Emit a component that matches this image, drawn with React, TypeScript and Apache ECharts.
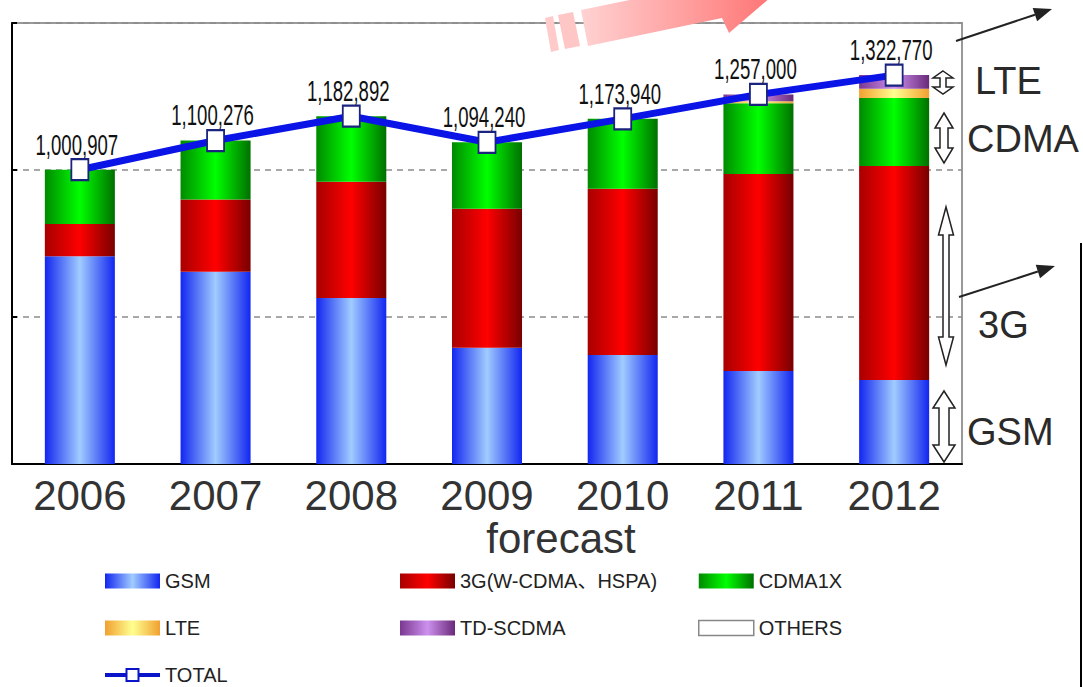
import React, { useEffect, useRef } from "react";
import * as echarts from "echarts";

const categories = ["2006", "2007", "2008", "2009", "2010", "2011", "2012"];
const gsm = [707000, 654000, 565000, 395000, 371000, 316000, 286000];
const g3 = [109000, 246000, 395000, 473000, 565000, 670000, 728000];
const cdma = [185000, 200000, 223000, 226000, 238000, 241000, 231000];
const lte = [0, 0, 0, 0, 0, 7000, 31000];
const tdscdma = [0, 0, 0, 0, 0, 23000, 47000];
const others = [0, 0, 0, 0, 0, 0, 0];
const totals = [1000907, 1100276, 1182892, 1094240, 1173940, 1257000, 1322770];

const seriesNames = ["GSM", "3G(W-CDMA、HSPA)", "CDMA1X", "LTE", "TD-SCDMA", "OTHERS", "TOTAL"];
const annotationLabels = ["LTE", "CDMA", "3G", "GSM"];
const axisNote = "forecast";

const FONT = "Liberation Sans, Arial, Noto Sans CJK JP, sans-serif";

const grad = (l: string, m: string, r: string) =>
  new echarts.graphic.LinearGradient(0, 0, 1, 0, [
    { offset: 0, color: l },
    { offset: 0.5, color: m },
    { offset: 1, color: r },
  ]);

function dblArrow(cx: number, top: number, bottom: number, headW: number, shaftW: number, headLen: number) {
  return {
    type: "polygon",
    shape: {
      points: [
        [cx, top],
        [cx + headW / 2, top + headLen],
        [cx + shaftW / 2, top + headLen],
        [cx + shaftW / 2, bottom - headLen],
        [cx + headW / 2, bottom - headLen],
        [cx, bottom],
        [cx - headW / 2, bottom - headLen],
        [cx - shaftW / 2, bottom - headLen],
        [cx - shaftW / 2, top + headLen],
        [cx - headW / 2, top + headLen],
      ],
    },
    style: { fill: "#fff", stroke: "#222", lineWidth: 1.5 },
    z: 20,
  };
}

function pointerArrow(x1: number, y1: number, x2: number, y2: number) {
  const dx = x2 - x1, dy = y2 - y1;
  const len = Math.hypot(dx, dy);
  const ux = dx / len, uy = dy / len;
  const hl = 18, hw = 7;
  const bx = x2 - ux * hl, by = y2 - uy * hl;
  return [
    { type: "line", shape: { x1, y1, x2: bx, y2: by }, style: { stroke: "#222", lineWidth: 2 }, z: 20 },
    {
      type: "polygon",
      shape: { points: [[x2, y2], [bx - uy * hw, by + ux * hw], [bx + uy * hw, by - ux * hw]] },
      style: { fill: "#222" },
      z: 20,
    },
  ];
}

export default function App() {
  const ref = useRef<HTMLDivElement>(null);
  useEffect(() => {
    const chart = echarts.init(ref.current!, null, { renderer: "svg" });
    const barBase = (name: string, data: number[], color: any) => ({
      name,
      type: "bar",
      stack: "total",
      data,
      barWidth: "51.6%",
      itemStyle: { color },
      z: 2,
    });
    const legendCommon = {
      orient: "vertical",
      itemGap: 27,
      itemWidth: 55,
      itemHeight: 15,
      padding: 0,
      selectedMode: false,
      textStyle: { fontFamily: FONT, fontSize: 20, color: "#222", lineHeight: 20 },
    };
    const li = (name: string, extra: any = {}) => ({ name, icon: "rect", ...extra });
    const pinkGrad = new echarts.graphic.LinearGradient(0, 0, 1, 0, [
      { offset: 0, color: "#ffd2d2" },
      { offset: 1, color: "#ff6e6e" },
    ]);
    chart.setOption({
      animation: false,
      backgroundColor: "#fff",
      grid: { left: 12, top: 23, right: 121, bottom: 223, show: true, borderColor: "#999", borderWidth: 2, backgroundColor: "#fff" },
      xAxis: {
        type: "category",
        data: categories,
        axisLine: { lineStyle: { color: "#000", width: 2 } },
        axisTick: { inside: true, length: 8, lineStyle: { color: "#000", width: 1.5 } },
        axisLabel: { fontFamily: FONT, fontSize: 42, color: "#333", margin: 10 },
      },
      yAxis: {
        type: "value",
        min: 0,
        max: 1500000,
        interval: 500000,
        axisLine: { show: true, lineStyle: { color: "#000", width: 2 } },
        axisTick: { show: true, inside: true, length: 5, lineStyle: { color: "#000", width: 2 } },
        axisLabel: { show: false },
        splitLine: { show: true, lineStyle: { color: "#8c8c8c", width: 1.5, type: [6, 5] } },
      },
      legend: [
        {
          ...legendCommon,
          left: 103,
          top: 571,
          data: [
            li(seriesNames[0]),
            li(seriesNames[3]),
            { name: seriesNames[6], lineStyle: { width: 4, color: "#0a14c8" }, itemStyle: { color: "#fff", borderColor: "#0a14c8", borderWidth: 2 } },
          ],
        },
        { ...legendCommon, left: 400, top: 571, data: [li(seriesNames[1]), li(seriesNames[4])] },
        {
          ...legendCommon,
          left: 698,
          top: 571,
          data: [li(seriesNames[2]), li(seriesNames[5], { itemStyle: { color: "#fff", borderColor: "#888", borderWidth: 1.5 } })],
        },
      ],
      series: [
        barBase(seriesNames[0], gsm, grad("#1226f0", "#a0ccff", "#1226f0")),
        barBase(seriesNames[1], g3, grad("#a80000", "#ff0000", "#780000")),
        barBase(seriesNames[2], cdma, grad("#008a00", "#00ff00", "#007000")),
        barBase(seriesNames[3], lte, grad("#f0a030", "#ffff90", "#f0a030")),
        barBase(seriesNames[4], tdscdma, grad("#7a3890", "#cc90ee", "#6a2a7a")),
        barBase(seriesNames[5], others, "#fff"),
        {
          name: "labels",
          type: "custom",
          data: totals.map((v, i) => [i, v]),
          z: 3,
          renderItem: (params: any, api: any) => {
            const p = api.coord([api.value(0), api.value(1)]);
            return {
              type: "text",
              x: p[0] - 3,
              y: p[1] - 26,
              scaleX: 0.62,
              style: {
                text: Number(api.value(1)).toLocaleString("en-US"),
                fontFamily: FONT,
                fontSize: 30,
                fill: "#111",
                align: "center",
                verticalAlign: "middle",
              },
            };
          },
        },
        {
          name: seriesNames[6],
          type: "line",
          data: totals,
          z: 5,
          symbol: "rect",
          symbolSize: [17, 21],
          lineStyle: { color: "#0a14e6", width: 7 },
          itemStyle: { color: "#fff", borderColor: "#1a237e", borderWidth: 2 },
        },
      ],
      graphic: [
        { type: "polygon", shape: { points: [[545, 18], [553, 16], [559, 50], [551, 52]] }, style: { fill: "#ffcaca" }, z: 20 },
        { type: "polygon", shape: { points: [[558, 15], [573, 12], [580, 46], [565, 49]] }, style: { fill: "#ffc6c6" }, z: 20 },
        {
          type: "polygon",
          shape: { points: [[581, 10], [588, 46], [722, 18], [729, 33], [785, -15], [705, -34], [712, -17]] },
          style: { fill: pinkGrad },
          z: 20,
        },
        dblArrow(943, 71, 94, 20, 6, 7),
        dblArrow(944, 113, 163, 18, 8, 15),
        dblArrow(946, 207, 365, 15, 6, 28),
        dblArrow(944, 391, 462, 22, 10, 17),
        ...pointerArrow(956, 41, 1052, 9),
        ...pointerArrow(959, 297, 1055, 266),
        { type: "line", shape: { x1: 1081, y1: 243, x2: 1081, y2: 687 }, style: { stroke: "#000", lineWidth: 2 }, z: 20 },
        { type: "text", x: 975, y: 81, style: { text: annotationLabels[0], fontFamily: FONT, fontSize: 38, fill: "#2a2a2a", verticalAlign: "middle" }, z: 20 },
        { type: "text", x: 967, y: 139, style: { text: annotationLabels[1], fontFamily: FONT, fontSize: 38, fill: "#2a2a2a", verticalAlign: "middle" }, z: 20 },
        { type: "text", x: 978, y: 325, style: { text: annotationLabels[2], fontFamily: FONT, fontSize: 38, fill: "#2a2a2a", verticalAlign: "middle" }, z: 20 },
        { type: "text", x: 967, y: 432, style: { text: annotationLabels[3], fontFamily: FONT, fontSize: 38, fill: "#2a2a2a", verticalAlign: "middle" }, z: 20 },
        { type: "text", x: 561, y: 538, style: { text: axisNote, fontFamily: FONT, fontSize: 42, fill: "#333", align: "center", verticalAlign: "middle" }, z: 20 },
      ],
    });
    return () => chart.dispose();
  }, []);
  return <div ref={ref} style={{ position: "absolute", left: 0, top: 0, width: 1083, height: 687 }} />;
}
